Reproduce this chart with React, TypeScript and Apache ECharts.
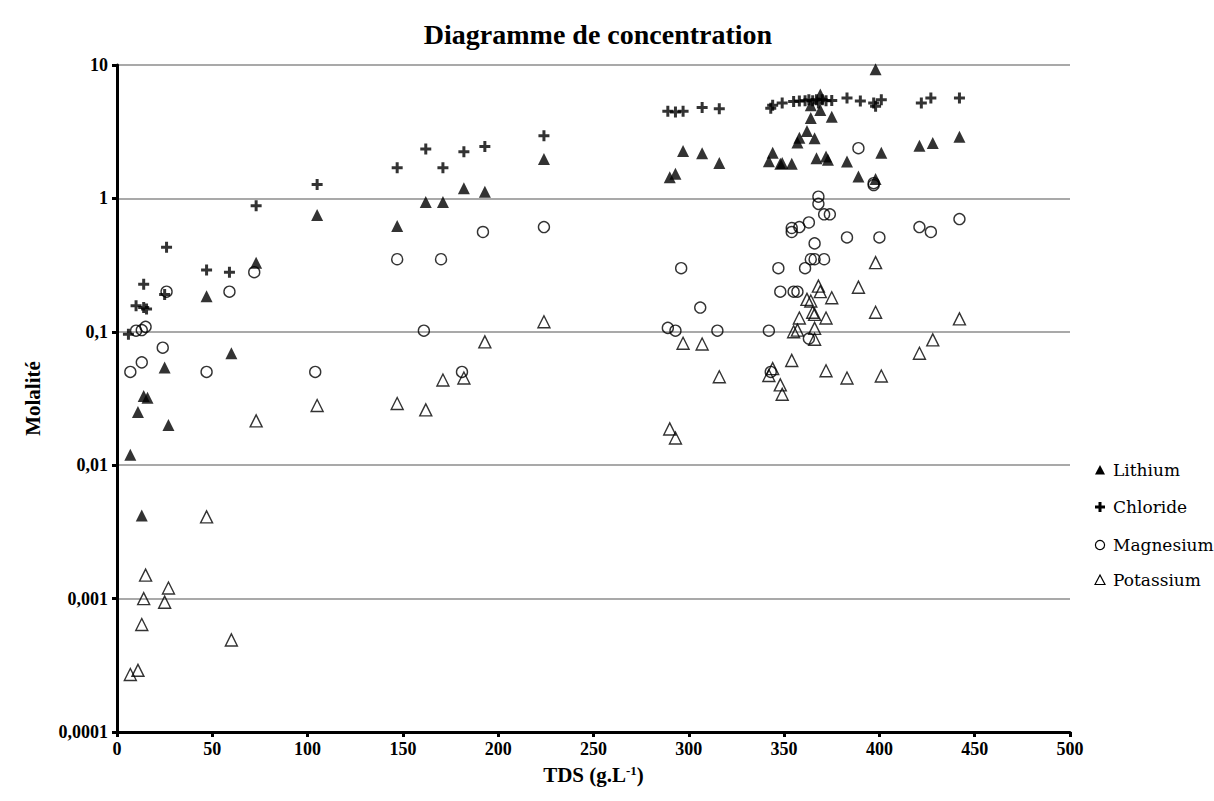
import React, { useEffect, useRef } from "react";
import * as echarts from "echarts";

const titleText = "Diagramme de concentration";
const xTicks = [0, 50, 100, 150, 200, 250, 300, 350, 400, 450, 500];
const yTickLabels = ["0,0001", "0,001", "0,01", "0,1", "1", "10"];
const seriesNames = ["Lithium", "Chloride", "Magnesium", "Potassium"];

const lithium: number[][] = [
  [7, 0.012], [11, 0.025], [13, 0.0042], [14, 0.033], [16, 0.032], [25, 0.054], [27, 0.02],
  [47, 0.185], [60, 0.069], [73, 0.33], [105, 0.75], [147, 0.62], [162, 0.94], [171, 0.94],
  [182, 1.19], [193, 1.12], [224, 1.97], [290, 1.44], [293, 1.53], [297, 2.27], [307, 2.18],
  [316, 1.84], [342, 1.9], [344, 2.2], [348, 1.82], [349, 1.84], [354, 1.82], [357, 2.62],
  [358, 2.85], [362, 3.2], [364, 4.0], [364, 5.0], [366, 2.83], [367, 2.0], [369, 6.0],
  [369, 4.6], [372, 2.06], [373, 1.95], [375, 4.1], [383, 1.89], [389, 1.46], [398, 9.3],
  [398, 1.4], [401, 2.2], [421, 2.48], [428, 2.6], [442, 2.9],
];

const chloride: number[][] = [
  [6, 0.096], [10, 0.157], [14, 0.152], [15.5, 0.148], [14, 0.227], [25, 0.19], [26, 0.43],
  [47, 0.29], [59, 0.28], [73, 0.88], [105, 1.27], [147, 1.7], [162, 2.35], [171, 1.7],
  [182, 2.24], [193, 2.45], [224, 2.95], [289, 4.5], [293, 4.45], [297, 4.5], [307, 4.8],
  [316, 4.7], [343, 4.75], [344, 5.0], [349, 5.18], [355, 5.32], [358, 5.38], [361, 5.4],
  [363, 5.48], [365, 5.4], [367, 5.5], [368, 5.2], [370, 5.5], [372, 5.4], [375, 5.42],
  [383, 5.65], [390, 5.38], [397, 5.2], [398, 4.9], [401, 5.5], [422, 5.18], [427, 5.65],
  [442, 5.65],
];

const magnesium: number[][] = [
  [7, 0.05], [10, 0.102], [13, 0.103], [15, 0.109], [13, 0.059], [24, 0.076], [26, 0.2],
  [47, 0.05], [59, 0.2], [72, 0.28], [104, 0.05], [147, 0.35], [161, 0.102], [170, 0.35],
  [181, 0.05], [192, 0.56], [224, 0.61], [289, 0.107], [293, 0.102], [296, 0.3], [306, 0.152],
  [315, 0.102], [342, 0.102], [343, 0.05], [347, 0.3], [348, 0.2], [354, 0.6], [354, 0.56],
  [355, 0.2], [357, 0.2], [358, 0.61], [361, 0.3], [363, 0.66], [363, 0.089], [364, 0.35],
  [366, 0.35], [366, 0.46], [368, 1.03], [368, 0.91], [371, 0.76], [371, 0.35], [374, 0.76],
  [383, 0.51], [389, 2.38], [397, 1.26], [397, 1.3], [400, 0.51], [421, 0.61], [427, 0.56],
  [442, 0.7],
];

const potassium: number[][] = [
  [7, 0.00027], [11, 0.00029], [13, 0.00064], [14, 0.001], [15, 0.0015], [25, 0.00094],
  [27, 0.0012], [47, 0.0041], [60, 0.00049], [73, 0.0215], [105, 0.028], [147, 0.029],
  [162, 0.026], [171, 0.0435], [182, 0.045], [193, 0.084], [224, 0.119], [290, 0.0187],
  [293, 0.016], [297, 0.082], [307, 0.081], [316, 0.046], [342, 0.047], [344, 0.053],
  [348, 0.04], [349, 0.034], [354, 0.061], [355, 0.1], [357, 0.103], [358, 0.127],
  [362, 0.175], [364, 0.17], [365, 0.14], [366, 0.135], [366, 0.106], [366, 0.088],
  [368, 0.22], [369, 0.2], [372, 0.127], [372, 0.051], [375, 0.18], [383, 0.045],
  [389, 0.216], [398, 0.33], [398, 0.14], [401, 0.0466], [421, 0.069], [428, 0.087],
  [442, 0.125],
];

const FONT = "Liberation Serif";
const LEGEND_FONT = "DejaVu Serif";
const PLUS = "path://M4,0H7V4H11V7H7V11H4V7H0V4H4Z";

export default function App() {
  const ref = useRef<HTMLDivElement>(null);
  useEffect(() => {
    if (!ref.current) return;
    const chart = echarts.init(ref.current, null, { renderer: "svg" });
    const hollow = { color: "rgba(255,255,255,0)", borderColor: "#000", borderWidth: 1.4 };

    // legend drawn as graphic elements (icons + serif labels)
    const lx = 1100;
    const ly = [470, 507, 545, 580];
    const legendText = (name: string, y: number) => ({
      type: "text",
      x: 1113,
      y,
      style: {
        text: name,
        fontFamily: LEGEND_FONT,
        fontSize: 17,
        fontWeight: "normal",
        fill: "#000",
        verticalAlign: "middle",
        align: "left",
      },
    });
    const graphics: any[] = [
      { type: "polygon", shape: { points: [[lx - 5, ly[0] + 4.5], [lx, ly[0] - 5], [lx + 5, ly[0] + 4.5]] }, style: { fill: "#000" } },
      { type: "rect", shape: { x: lx - 5, y: ly[1] - 1.5, width: 10, height: 3 }, style: { fill: "#000" } },
      { type: "rect", shape: { x: lx - 1.5, y: ly[1] - 5, width: 3, height: 10 }, style: { fill: "#000" } },
      { type: "circle", shape: { cx: lx, cy: ly[2], r: 4.6 }, style: { fill: "none", stroke: "#000", lineWidth: 1.2 } },
      { type: "polygon", shape: { points: [[lx - 5, ly[3] + 4.5], [lx, ly[3] - 5], [lx + 5, ly[3] + 4.5]] }, style: { fill: "none", stroke: "#000", lineWidth: 1.2 } },
      ...seriesNames.map((n, i) => legendText(n, ly[i])),
    ];

    chart.setOption({
      animation: false,
      backgroundColor: "#fff",
      textStyle: { fontFamily: FONT },
      title: {
        text: titleText,
        left: 593,
        textAlign: "center",
        top: 15,
        textStyle: { fontFamily: FONT, fontWeight: "bold", fontSize: 28, color: "#000" },
      },
      graphic: graphics,
      grid: { left: 117, right: 144, top: 65, bottom: 69, containLabel: false },
      xAxis: {
        type: "value",
        min: 0,
        max: 500,
        interval: 50,
        name: "TDS (g.L{sup|-1})",
        nameLocation: "middle",
        nameGap: 32,
        nameTextStyle: {
          fontFamily: FONT,
          fontWeight: "bold",
          fontSize: 21,
          color: "#000",
          rich: {
            sup: { fontFamily: FONT, fontWeight: "bold", fontSize: 13, color: "#000", verticalAlign: "top", padding: [0, 0, 9, 0] },
          },
        },
        axisLine: { lineStyle: { color: "#000", width: 3 } },
        axisTick: { length: 5, lineStyle: { color: "#000", width: 3 } },
        axisLabel: {
          fontFamily: FONT,
          fontWeight: "bold",
          fontSize: 18,
          color: "#000",
          margin: 8,
          formatter: (v: number) => (xTicks.includes(v) ? String(v) : ""),
        },
        splitLine: { show: false },
      },
      yAxis: {
        type: "log",
        logBase: 10,
        min: 0.0001,
        max: 10,
        name: "Molalité",
        nameLocation: "middle",
        nameRotate: 90,
        nameGap: 74,
        nameTextStyle: { fontFamily: FONT, fontWeight: "bold", fontSize: 21, color: "#000" },
        axisLine: { show: true, lineStyle: { color: "#000", width: 3 } },
        axisTick: { show: true, length: 5, lineStyle: { color: "#000", width: 3 } },
        axisLabel: {
          fontFamily: FONT,
          fontWeight: "bold",
          fontSize: 18,
          color: "#000",
          margin: 9,
          formatter: (v: number) => {
            const e = Math.round(Math.log10(v));
            return yTickLabels[e + 4] ?? "";
          },
        },
        splitLine: { show: true, lineStyle: { color: "#8c8c8c", width: 1.5 } },
      },
      series: [
        {
          name: "Lithium",
          type: "scatter",
          data: lithium,
          symbol: "triangle",
          symbolSize: 12,
          itemStyle: { color: "#000" },
        },
        {
          name: "Chloride",
          type: "scatter",
          data: chloride,
          symbol: PLUS,
          symbolSize: 11,
          itemStyle: { color: "#000" },
        },
        {
          name: "Magnesium",
          type: "scatter",
          data: magnesium,
          symbol: "circle",
          symbolSize: 11,
          itemStyle: hollow,
        },
        {
          name: "Potassium",
          type: "scatter",
          data: potassium,
          symbol: "triangle",
          symbolSize: 12,
          itemStyle: hollow,
        },
      ],
    });
    return () => chart.dispose();
  }, []);
  return (
    <div
      ref={ref}
      style={{ position: "fixed", left: 0, top: 0, width: 1214, height: 801, background: "#fff" }}
    />
  );
}
